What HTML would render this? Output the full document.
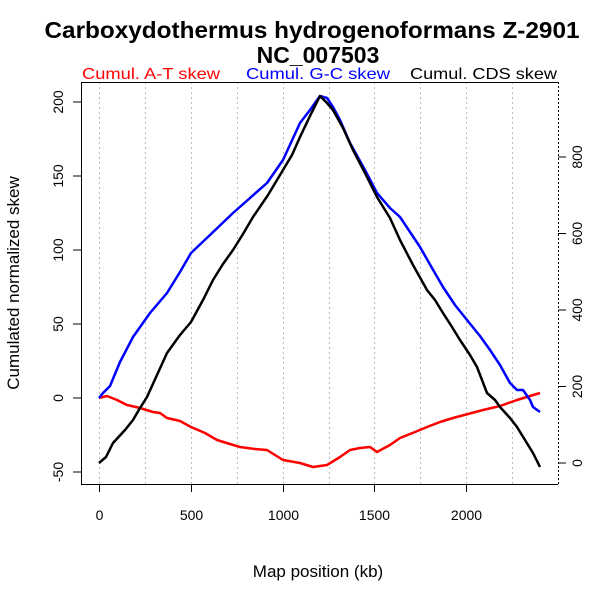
<!DOCTYPE html>
<html><head><style>body{margin:0;background:#fff}svg{display:block}text{font-family:"Liberation Sans",sans-serif}</style></head><body>
<svg width="600" height="600" xmlns="http://www.w3.org/2000/svg">
<rect width="600" height="600" fill="#fff"/>
<text x="312" y="38" font-size="23" font-weight="bold" text-anchor="middle" textLength="535" lengthAdjust="spacingAndGlyphs">Carboxydothermus hydrogenoformans Z-2901</text>
<text x="318" y="63" font-size="23" font-weight="bold" text-anchor="middle">NC_007503</text>
<text x="82" y="79" font-size="16" fill="#f00" textLength="138" lengthAdjust="spacingAndGlyphs">Cumul. A-T skew</text>
<text x="246" y="79" font-size="16" fill="#00f" textLength="144" lengthAdjust="spacingAndGlyphs">Cumul. G-C skew</text>
<text x="410" y="79" font-size="16" fill="#000" textLength="147" lengthAdjust="spacingAndGlyphs">Cumul. CDS skew</text>
<g stroke="#bbb" stroke-dasharray="2,3" stroke-width="1">
<line x1="99.5" y1="82" x2="99.5" y2="484"/><line x1="145.5" y1="82" x2="145.5" y2="484"/><line x1="191.5" y1="82" x2="191.5" y2="484"/><line x1="237.5" y1="82" x2="237.5" y2="484"/><line x1="283.5" y1="82" x2="283.5" y2="484"/><line x1="329.5" y1="82" x2="329.5" y2="484"/><line x1="374.5" y1="82" x2="374.5" y2="484"/><line x1="420.5" y1="82" x2="420.5" y2="484"/><line x1="466.5" y1="82" x2="466.5" y2="484"/><line x1="512.5" y1="82" x2="512.5" y2="484"/>
</g>
<path d="M81.5 484.5V82.5H558.5" fill="none" stroke="#000"/>
<line x1="81" y1="484.5" x2="558" y2="484.5" stroke="#000"/>
<line x1="558.5" y1="82" x2="558.5" y2="484" stroke="#000" stroke-dasharray="2,2"/>
<g stroke="#000">
<line x1="99.5" y1="484" x2="99.5" y2="492"/><line x1="191.5" y1="484" x2="191.5" y2="492"/><line x1="283.5" y1="484" x2="283.5" y2="492"/><line x1="374.5" y1="484" x2="374.5" y2="492"/><line x1="466.5" y1="484" x2="466.5" y2="492"/>
<line x1="73" y1="102" x2="81" y2="102"/><line x1="73" y1="176" x2="81" y2="176"/><line x1="73" y1="250" x2="81" y2="250"/><line x1="73" y1="324" x2="81" y2="324"/><line x1="73" y1="398" x2="81" y2="398"/><line x1="73" y1="472" x2="81" y2="472"/>
<line x1="558" y1="463" x2="566" y2="463"/><line x1="558" y1="386.5" x2="566" y2="386.5"/><line x1="558" y1="310" x2="566" y2="310"/><line x1="558" y1="233.5" x2="566" y2="233.5"/><line x1="558" y1="157" x2="566" y2="157"/>
</g>
<g font-size="14" text-anchor="middle" fill="#000">
<text x="99.5" y="520">0</text><text x="191.5" y="520">500</text><text x="283.5" y="520">1000</text><text x="374.5" y="520">1500</text><text x="466.5" y="520">2000</text>
<text transform="translate(63,102) rotate(-90)">200</text><text transform="translate(63,176) rotate(-90)">150</text><text transform="translate(63,250) rotate(-90)">100</text><text transform="translate(63,324) rotate(-90)">50</text><text transform="translate(63,398) rotate(-90)">0</text><text transform="translate(63,472) rotate(-90)">-50</text>
<text transform="translate(582,463) rotate(-90)">0</text><text transform="translate(582,386.5) rotate(-90)">200</text><text transform="translate(582,310) rotate(-90)">400</text><text transform="translate(582,233.5) rotate(-90)">600</text><text transform="translate(582,157) rotate(-90)">800</text>
</g>
<text x="318" y="577" font-size="17" text-anchor="middle">Map position (kb)</text>
<text transform="translate(19,283) rotate(-90)" font-size="17" text-anchor="middle">Cumulated normalized skew</text>
<g fill="none" stroke-width="2.5" stroke-linejoin="round">
<polyline stroke="#f00" points="99,398 107,396 117,400 127,405 140,408 153,412 160,413 167,418 180,421 191,427 205,433 217,440 230,444 240,447 255,449 267,450 275,455 283,460 300,463 313,467 327,465 340,457 350,450 360,448 370,447 377,452 390,445 400,438 415,432 427,427 440,422 453,418 468,414 483,410 500,406 517,400 530,396 540,393"/>
<polyline stroke="#00f" points="99,398 103,393 110,386 120,362 133,337 150,313 167,293 180,272 191,253 210,235 233,213 250,198 267,183 283,160 300,123 310,110 320,96 327,98 333,107 340,120 350,143 365,170 377,193 390,208 400,217 410,232 420,247 432,268 443,287 455,305 467,320 480,336 490,350 500,365 510,383 517,390 523,390 530,400 533,407 540,412"/>
<polyline stroke="#000" points="99,463 106,457 113,443 125,430 133,420 140,408 147,397 157,375 167,353 180,335 191,322 203,300 213,280 223,264 233,250 243,234 253,217 268,195 283,170 292,155 300,137 310,116 320,96 327,103 333,110 343,128 353,150 365,173 377,197 390,218 400,240 413,265 427,290 435,300 443,313 452,327 460,340 470,355 477,367 487,393 495,400 500,407 510,418 517,427 525,440 533,453 540,467"/>
</g>
</svg>
</body></html>
